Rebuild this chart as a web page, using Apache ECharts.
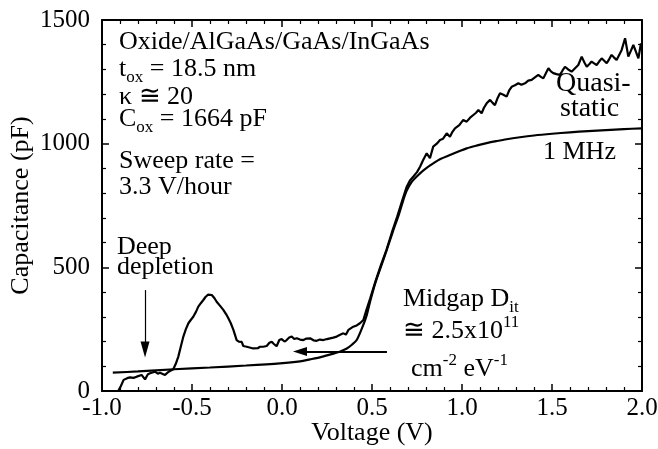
<!DOCTYPE html>
<html>
<head>
<meta charset="utf-8">
<script src="https://cdn.jsdelivr.net/npm/echarts@6/dist/echarts.min.js"></script>
<style>html,body{margin:0;padding:0;background:#fff}#c{width:658px;height:449px}</style>
</head>
<body>
<div id="c"></div>
<script>
// Quasi-static C-V (noisy)
const qsV = [-0.91,-0.895,-0.88,-0.86,-0.844,-0.825,-0.807,-0.78,-0.761,-0.745,-0.733,-0.706,-0.69,-0.678,-0.65,-0.63,-0.604,-0.59,-0.576,-0.562,-0.548,-0.534,-0.52,-0.506,-0.493,-0.478,-0.465,-0.45,-0.437,-0.425,-0.41,-0.39,-0.375,-0.363,-0.345,-0.326,-0.31,-0.298,-0.285,-0.27,-0.252,-0.24,-0.224,-0.215,-0.196,-0.18,-0.16,-0.15,-0.135,-0.122,-0.104,-0.085,-0.07,-0.057,-0.045,-0.03,-0.015,-0.002,0.014,0.026,0.04,0.054,0.068,0.082,0.1,0.119,0.136,0.156,0.175,0.193,0.21,0.23,0.25,0.267,0.285,0.304,0.32,0.341,0.355,0.369,0.38,0.396,0.415,0.433,0.452,0.47,0.49,0.52,0.55,0.58,0.61,0.64,0.67,0.693,0.71,0.73,0.75,0.767,0.785,0.804,0.822,0.84,0.86,0.878,0.895,0.915,0.933,0.947,0.961,0.985,1.007,1.026,1.045,1.063,1.078,1.091,1.109,1.122,1.137,1.156,1.17,1.183,1.198,1.211,1.23,1.248,1.262,1.276,1.294,1.313,1.33,1.35,1.368,1.387,1.405,1.424,1.438,1.452,1.466,1.48,1.494,1.507,1.525,1.544,1.558,1.572,1.59,1.609,1.628,1.646,1.665,1.68,1.693,1.708,1.72,1.734,1.748,1.762,1.776,1.79,1.804,1.818,1.831,1.845,1.859,1.873,1.887,1.906,1.915,1.924,1.938,1.952,1.966,1.98,1.994,2.0];
const qsC = [0,20,45,52,55,53,58,65,47,68,72,78,70,74,65,78,88,110,139,180,220,250,274,288,300,320,341,356,368,380,390,388,375,361,345,328,310,294,275,247,206,200,199,182,179,176,172,166,173,179,179,182,195,199,190,181,206,210,200,206,216,220,210,213,208,206,212,213,205,203,208,206,210,213,216,220,226,233,228,247,253,260,265,274,287,330,375,445,510,570,640,705,775,826,850,867,885,907,935,961,941,988,1000,1015,1020,1042,1028,1048,1062,1075,1096,1089,1105,1116,1125,1136,1123,1145,1163,1177,1165,1156,1185,1204,1198,1190,1215,1230,1236,1244,1238,1244,1255,1258,1268,1278,1270,1264,1285,1305,1292,1285,1281,1278,1295,1311,1300,1291,1305,1318,1352,1328,1311,1322,1332,1325,1318,1332,1345,1335,1325,1342,1359,1348,1338,1358,1379,1426,1390,1352,1375,1399,1372,1345,1405,1390];

// 1 MHz C-V (smooth)
const hfV = [-0.94,-0.8,-0.6,-0.4,-0.2,-0.011,0.1,0.156,0.22,0.28,0.32,0.36,0.39,0.415,0.445,0.47,0.489,0.52,0.563,0.6,0.619,0.65,0.674,0.693,0.72,0.767,0.8,0.84,0.88,0.933,0.98,1.026,1.08,1.137,1.19,1.248,1.322,1.4,1.5,1.6,1.7,1.8,1.9,2.0];
const hfC = [74,79,88,95,103,112,120,128,138,150,159,172,188,206,255,305,360,440,530,610,651,715,772,810,845,880,900,920,938,954,968,981,992,1002,1010,1018,1026,1033,1040,1046,1051,1055,1059,1062];

const xTicks = {min:-1, max:2, interval:0.5};
const yTicks = {min:0, max:1500, interval:500};

// annotation arrows (data coordinates)
const deepArrow = [[-0.761, 408], [-0.761, 168]];
const sweepArrow = [[0.583, 160], [0.1, 160]];

const FONT = "'Liberation Serif','Times New Roman','DejaVu Serif',serif";
const chart = echarts.init(document.getElementById('c'), null, {renderer:'canvas'});

function axisCommon(){
  return {
    axisLine:{show:true,onZero:false,lineStyle:{color:'#000',width:2}},
    axisTick:{show:true,inside:true,length:7,lineStyle:{color:'#000',width:1.5}},
    minorTick:{show:true,splitNumber:5,length:4,lineStyle:{color:'#000',width:1.2}},
    splitLine:{show:false},
    minorSplitLine:{show:false}
  };
}

const sub = {fontSize:17, lineHeight:17, padding:[13,0,0,0], verticalAlign:'top', fontFamily:FONT, fill:'#000'};
const mainT = {fontSize:26, lineHeight:26, verticalAlign:'top', fontFamily:FONT, fill:'#000'};
const mainP = {fontSize:26, lineHeight:26, padding:[4,0,0,0], verticalAlign:'top', fontFamily:FONT, fill:'#000'};
const sup = {fontSize:17, lineHeight:17, verticalAlign:'top', fontFamily:FONT, fill:'#000'};

function txt(left, top, text, size){
  return {type:'text', left:left, top:top, silent:true,
    style:{text:text, font: (size||26)+'px '+FONT, fill:'#000'}};
}
function rtxt(left, top, text, rich){
  return {type:'text', left:left, top:top, silent:true,
    style:{text:text, fill:'#000', font:'26px '+FONT, rich:rich}};
}

const option = {
  animation:false,
  backgroundColor:'#fff',
  grid:{left:102,right:16,top:20,bottom:58,containLabel:false,outerBoundsMode:'none'},
  xAxis:[
    Object.assign({type:'value',position:'bottom',min:xTicks.min,max:xTicks.max,interval:xTicks.interval,
      axisLabel:{color:'#000',fontFamily:FONT,fontSize:25,margin:5,showMinLabel:true,showMaxLabel:true,
        formatter:v=>v.toFixed(1)},
      name:'Voltage (V)',nameLocation:'middle',nameGap:29,nameMoveOverlap:false,
      nameTextStyle:{color:'#000',fontFamily:FONT,fontSize:26}}, axisCommon()),
    Object.assign({type:'value',position:'top',min:xTicks.min,max:xTicks.max,interval:xTicks.interval,
      axisLabel:{show:false}}, axisCommon())
  ],
  yAxis:[
    Object.assign({type:'value',position:'left',min:yTicks.min,max:yTicks.max,interval:yTicks.interval,
      axisLabel:{color:'#000',fontFamily:FONT,fontSize:25,margin:12,formatter:v=>String(v)},
      name:'Capacitance (pF)',nameLocation:'middle',nameGap:68,nameMoveOverlap:false,
      nameTextStyle:{color:'#000',fontFamily:FONT,fontSize:26}}, axisCommon()),
    Object.assign({type:'value',position:'right',min:yTicks.min,max:yTicks.max,interval:yTicks.interval,
      axisLabel:{show:false}}, axisCommon())
  ],
  series:[
    {type:'line',name:'Quasi-static',xAxisIndex:0,yAxisIndex:0,showSymbol:false,symbol:'none',
      data:qsV.map((v,i)=>[v,qsC[i]]),
      lineStyle:{color:'#000',width:2.2},
      markLine:{silent:true,animation:false,label:{show:false},
        data:[
          [{coord:deepArrow[0],symbol:'none',lineStyle:{color:'#000',width:1.2,type:'solid'}},
           {coord:deepArrow[1],symbol:'triangle',symbolSize:[9,16]}],
          [{coord:sweepArrow[0],symbol:'none',lineStyle:{color:'#000',width:2,type:'solid'}},
           {coord:sweepArrow[1],symbol:'triangle',symbolSize:[9,14]}]
        ],
        lineStyle:{color:'#000',width:1.5,type:'solid'}}
    },
    {type:'line',name:'1 MHz',xAxisIndex:0,yAxisIndex:0,showSymbol:false,symbol:'none',smooth:0.3,
      data:hfV.map((v,i)=>[v,hfC[i]]),
      lineStyle:{color:'#000',width:2.2}}
  ],
  graphic:[
    txt(119,29,'Oxide/AlGaAs/GaAs/InGaAs'),
    rtxt(119,56,'{m|t}{s|ox}{m| = 18.5 nm}',{m:mainT,s:sub}),
    txt(119,84,'\u03ba \u2245 20'),
    rtxt(119,106,'{m|C}{s|ox}{m| = 1664 pF}',{m:mainT,s:sub}),
    txt(119,148,'Sweep rate ='),
    txt(119,174,'3.3 V/hour'),
    txt(556,70,'Quasi-',28),
    txt(560,95,'static',28),
    txt(543,139,'1 MHz'),
    txt(117,234,'Deep'),
    txt(117,254,'depletion'),
    rtxt(403,286,'{m|Midgap D}{s|it}',{m:mainT,s:sub}),
    rtxt(403,314,'{m|\u2245 2.5x10}{p|11}',{m:mainP,p:sup}),
    rtxt(411,352,'{m|cm}{p|-2}{m| eV}{p|-1}',{m:mainP,p:sup})
  ]
};
chart.setOption(option);
</script>
</body>
</html>
